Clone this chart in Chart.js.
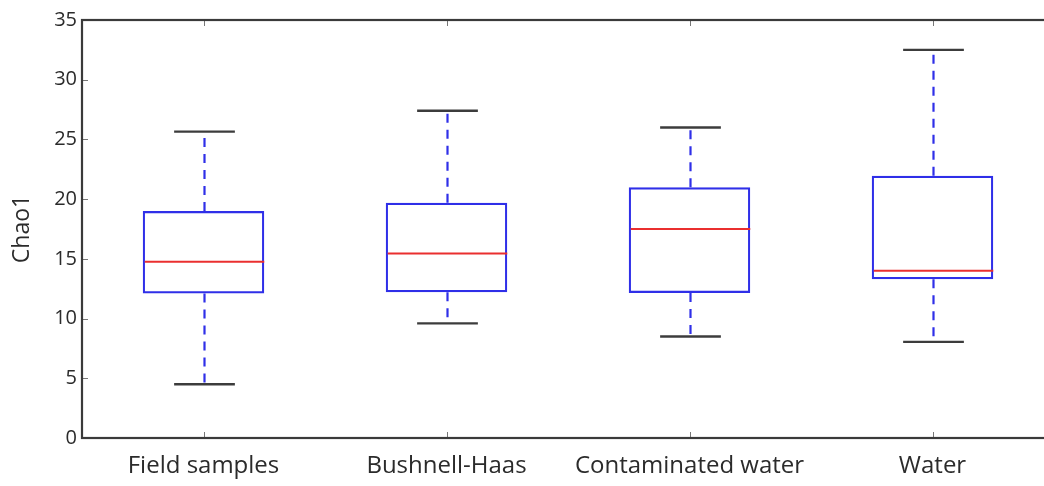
<!DOCTYPE html>
<html>
<head>
<meta charset="utf-8">
<script src="https://cdn.jsdelivr.net/npm/chart.js@4/dist/chart.umd.min.js"></script>
<style>
  html, body { margin: 0; padding: 0; background: #fff; overflow: hidden; }
  #wrap { position: relative; width: 1070px; height: 486px; }
</style>
</head>
<body>
<div id="wrap"><canvas id="chao"></canvas></div>
<script>
const groups  = ['Field samples', 'Bushnell-Haas', 'Contaminated water', 'Water']
const whiskLo = [4.5, 9.6, 8.5, 8.05]
const q1      = [12.1, 12.2, 12.15, 13.3]
const median  = [14.75, 15.45, 17.5, 14.0]
const q3      = [19.0, 19.7, 21.0, 21.95]
const whiskHi = [25.65, 27.4, 26.0, 32.5]
const yTicks  = [0, 5, 10, 15, 20, 25, 30, 35]

const AXIS = '#3a3a3a'
const BLUE = '#2f2fe8'
const RED  = '#ea2f2f'
const TEXT = '#2b2b2b'
const FONT = "'Open Sans', 'Noto Sans', sans-serif"

// whiskers, caps, medians, inward ticks and the top/right frame
const boxExtras = {
  id: 'boxExtras',
  afterDatasetsDraw(chart) {
    const { ctx, chartArea: a, scales: { x, y } } = chart
    const step = x.getPixelForValue(1) - x.getPixelForValue(0)
    const capHalf = step * 0.125
    const boxHalf = step * 0.25
    ctx.save()
    groups.forEach((g, i) => {
      const cx = Math.round(x.getPixelForValue(i)) + 0.5
      // dashed whiskers
      ctx.strokeStyle = BLUE; ctx.lineWidth = 2.2
      ctx.setLineDash([9, 7])
      ctx.beginPath()
      ctx.moveTo(cx, y.getPixelForValue(q3[i])); ctx.lineTo(cx, y.getPixelForValue(whiskHi[i]))
      ctx.stroke()
      ctx.beginPath()
      ctx.moveTo(cx, y.getPixelForValue(q1[i])); ctx.lineTo(cx, y.getPixelForValue(whiskLo[i]))
      ctx.stroke()
      ctx.setLineDash([])
      // caps
      ctx.strokeStyle = '#3c3c3c'; ctx.lineWidth = 2.4
      ;[whiskHi[i], whiskLo[i]].forEach(v => {
        const py = y.getPixelForValue(v)
        ctx.beginPath(); ctx.moveTo(cx - capHalf, py); ctx.lineTo(cx + capHalf, py); ctx.stroke()
      })
      // median
      const my = y.getPixelForValue(median[i])
      ctx.strokeStyle = RED; ctx.lineWidth = 2
      ctx.beginPath(); ctx.moveTo(cx - boxHalf + 1, my); ctx.lineTo(cx + boxHalf - 1, my); ctx.stroke()
    })
    // inward tick marks
    ctx.strokeStyle = '#777'; ctx.lineWidth = 1
    groups.forEach((g, i) => {
      const cx = Math.round(x.getPixelForValue(i)) + 0.5
      ctx.beginPath(); ctx.moveTo(cx, a.bottom); ctx.lineTo(cx, a.bottom - 6); ctx.stroke()
      ctx.beginPath(); ctx.moveTo(cx, a.top); ctx.lineTo(cx, a.top + 6); ctx.stroke()
    })
    yTicks.forEach(v => {
      const py = Math.round(y.getPixelForValue(v)) + 0.5
      ctx.beginPath(); ctx.moveTo(a.left, py); ctx.lineTo(a.left + 6, py); ctx.stroke()
    })
    // frame
    ctx.strokeStyle = AXIS; ctx.lineWidth = 2.2
    ctx.strokeRect(a.left, a.top, a.right - a.left, a.bottom - a.top)
    ctx.restore()
  }
}

new Chart(document.getElementById('chao'), {
  type: 'bar',
  data: {
    labels: groups,
    datasets: [{
      data: groups.map((g, i) => [q1[i], q3[i]]),
      backgroundColor: 'rgba(0,0,0,0)',
      borderColor: BLUE,
      borderWidth: 2.2,
      borderSkipped: false,
      barPercentage: 0.5,
      categoryPercentage: 1.0,
    }]
  },
  options: {
    responsive: true, maintainAspectRatio: false, animation: false,
    layout: { padding: { top: 20, right: 16, left: 0, bottom: 0 } },
    plugins: { legend: { display: false }, tooltip: { enabled: false } },
    scales: {
      x: {
        grid: { display: false, drawTicks: false },
        border: { display: false },
        ticks: { color: TEXT, font: { family: FONT, size: 24 }, padding: 14 },
        afterFit: s => { s.height = 48 },
      },
      y: {
        min: 0, max: 35,
        grid: { display: false, drawTicks: false },
        border: { display: false },
        afterBuildTicks: s => { s.ticks = yTicks.map(v => ({ value: v })) },
        ticks: { color: TEXT, font: { family: FONT, size: 20 }, padding: 5 },
        title: { display: true, text: 'Chao1', color: TEXT, font: { family: FONT, size: 23 }, padding: { top: 9, bottom: 0 } },
        afterFit: s => { s.width = 82 },
      }
    }
  },
  plugins: [boxExtras]
})
</script>
</body>
</html>
